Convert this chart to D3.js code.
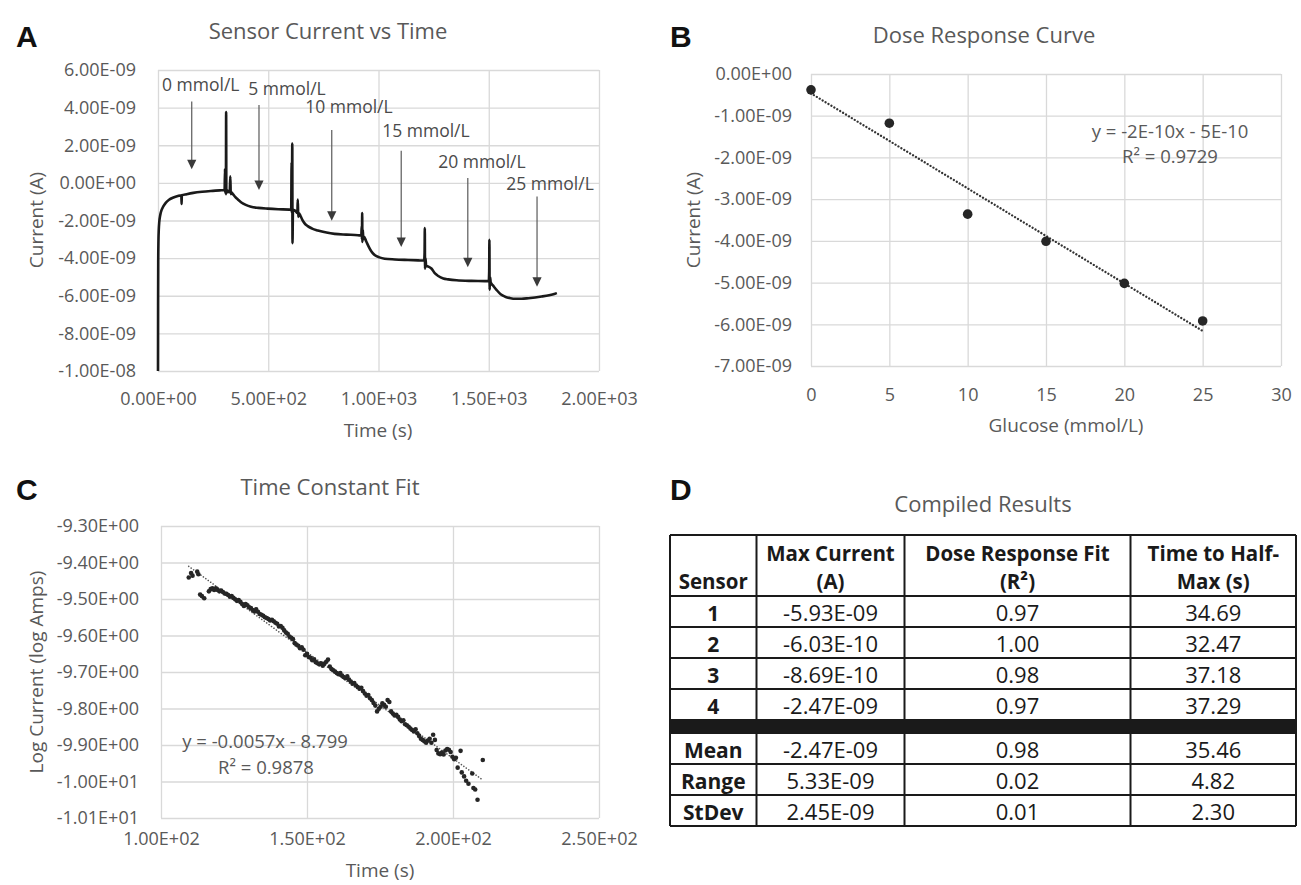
<!DOCTYPE html>
<html>
<head>
<meta charset="utf-8">
<script src="https://cdn.jsdelivr.net/npm/d3@7"></script>
<style>
body { margin: 0; background: #fff; }
svg text { font-family: "Open Sans", sans-serif; }
</style>
</head>
<body>
<svg id="fig" width="1301" height="885"></svg>
<script>
"use strict";

// ---------- data ----------
// panel A: sensor trace, time (s) vs current (nA)
var traceA = [[0,-10],[0.4,-6.5],[1,-4.2],[2,-3.1],[3.5,-2.5],[6,-2.05],[10,-1.72],[16,-1.45],[24,-1.25],[35,-1.06],
	[50,-0.9],[70,-0.78],[90,-0.7],[106,-0.66],[107,-1.12],[108,-0.66],[130,-0.6],[160,-0.53],[200,-0.47],[240,-0.43],
	[280,-0.4],[302,-0.38],[304,0.75],[305,-0.55],[307,0.5],[308,-0.6],[309,3.77],[310,-0.55],[313,-0.4],[318,-0.45],
	[325,-0.5],[328,0.35],[330,-0.6],[333,-0.5],[340,-0.6],[350,-0.75],[362,-0.88],[378,-1.04],[398,-1.17],[422,-1.27],
	[455,-1.33],[498,-1.37],[545,-1.4],[596,-1.42],[604,-1.45],[606,1.1],[607,-1.6],[609,2.09],[610,-3.2],[612,-1.5],
	[616,-1.45],[624,-1.5],[632,-1.6],[634,-0.89],[636,-1.81],[639,-1.6],[646,-1.75],[654,-1.95],[664,-2.14],[679,-2.3],
	[699,-2.43],[725,-2.53],[764,-2.64],[801,-2.71],[854,-2.75],[907,-2.78],[922,-2.8],[924,-2.3],[925,-3.0],[926,-1.6],
	[927,-3.14],[929,-2.5],[931,-3.0],[934,-2.85],[944,-3.1],[956,-3.4],[968,-3.65],[984,-3.85],[1004,-3.96],[1028,-4.03],
	[1074,-4.07],[1134,-4.1],[1180,-4.12],[1207,-4.13],[1209,-3.7],[1210,-2.4],[1211,-4.56],[1213,-4.0],[1216,-4.4],[1226,-4.45],
	[1240,-4.55],[1255,-4.8],[1271,-4.95],[1294,-5.08],[1316,-5.13],[1354,-5.18],[1422,-5.21],[1483,-5.22],[1500,-5.23],[1502,-4.7],
	[1503,-3.02],[1504,-5.68],[1506,-5.0],[1509,-5.3],[1519,-5.45],[1536,-5.7],[1554,-5.92],[1574,-6.05],[1599,-6.13],[1619,-6.16],
	[1649,-6.16],[1680,-6.13],[1740,-6.04],[1774,-5.97],[1801,-5.89],[1809,-5.86]];

// glucose additions marked on panel A (time s, current nA)
var doseLabels = ["0 mmol/L", "5 mmol/L", "10 mmol/L", "15 mmol/L", "20 mmol/L", "25 mmol/L"];
var arrowT = [153, 458, 788, 1103, 1405, 1719];
var arrowTop = [4.32, 4.14, 2.81, 1.71, 0.26, -0.73];
var arrowTip = [0.72, -0.38, -2.01, -3.41, -4.49, -5.52];
var labelT = [194, 585, 866, 1215, 1469, 1778];
var labelV = [4.86, 4.67, 3.72, 2.44, 0.79, -0.38];

var ticksAx = [0, 500, 1000, 1500, 2000];
var ticksAy = [6, 4, 2, 0, -2, -4, -6, -8, -10]; // nA

// panel B: dose response
var glucose = [0, 5, 10, 15, 20, 25];
var doseCurrent = [-0.38e-9, -1.18e-9, -3.36e-9, -4.01e-9, -5.02e-9, -5.92e-9];
var ticksBx = [0, 5, 10, 15, 20, 25, 30];
var ticksBy = [0, -1e-9, -2e-9, -3e-9, -4e-9, -5e-9, -6e-9, -7e-9];

// panel C: time constant fit, time (s) vs log current
var fitTime = [109.5,110.3,110.8,112.4,112.8,113.4,114.0,114.8,116.4,117.0,117.6,118.2,118.8,119.4,120.0,120.6,121.2,121.8,
	122.4,123.0,123.6,124.2,124.8,125.4,126.0,126.6,127.2,127.8,128.4,129.0,129.6,130.2,130.8,131.4,132.0,132.6,133.2,133.8,
	134.4,135.0,135.6,136.2,136.8,137.4,138.0,138.6,139.2,139.8,140.4,141.0,141.6,142.2,142.8,143.4,144.0,144.6,145.2,145.8,
	146.4,147.0,147.6,148.2,148.8,149.4,150.0,150.6,151.2,151.8,152.4,153.0,153.6,154.2,154.8,155.4,156.0,156.6,157.2,157.8,
	158.4,159.0,159.6,160.2,160.8,161.4,162.0,162.6,163.2,163.8,164.4,165.0,165.6,166.2,166.8,167.4,168.0,168.6,169.2,169.8,
	170.4,171.0,171.6,172.2,172.8,173.4,174.0,174.6,175.2,175.8,176.4,177.0,177.6,178.2,178.8,179.4,180.0,180.6,181.2,181.8,
	182.4,183.0,183.6,184.2,184.8,185.4,186.0,186.6,187.2,187.8,188.4,189.0,189.6,190.2,190.8,191.4,192.0,192.6,193.2,193.8,
	194.4,195.0,195.6,196.2,196.8,197.4,198.0,198.6,199.2,199.8,200.4,201.0,201.6,202.6,203.0,203.8,204.5,205.3,206.6,207.0,
	207.6,208.4,210.2];
var fitLogI = [-9.441,-9.429,-9.436,-9.425,-9.432,-9.488,-9.492,-9.498,-9.479,-9.473,-9.471,-9.475,-9.471,-9.475,-9.479,-9.477,-9.481,-9.485,
	-9.486,-9.489,-9.494,-9.492,-9.497,-9.501,-9.505,-9.503,-9.508,-9.514,-9.519,-9.514,-9.517,-9.523,-9.525,-9.530,-9.534,-9.528,-9.535,-9.541,
	-9.543,-9.546,-9.550,-9.552,-9.555,-9.559,-9.557,-9.561,-9.565,-9.568,-9.575,-9.574,-9.579,-9.586,-9.592,-9.595,-9.603,-9.606,-9.610,-9.621,
	-9.625,-9.628,-9.635,-9.632,-9.639,-9.654,-9.650,-9.659,-9.661,-9.668,-9.665,-9.673,-9.676,-9.679,-9.676,-9.683,-9.677,-9.672,-9.666,-9.685,
	-9.692,-9.695,-9.699,-9.703,-9.706,-9.703,-9.710,-9.714,-9.717,-9.712,-9.721,-9.726,-9.732,-9.730,-9.737,-9.741,-9.746,-9.743,-9.752,-9.759,
	-9.765,-9.763,-9.772,-9.777,-9.785,-9.792,-9.808,-9.801,-9.795,-9.786,-9.790,-9.795,-9.777,-9.782,-9.808,-9.814,-9.819,-9.817,-9.823,-9.830,
	-9.835,-9.832,-9.843,-9.846,-9.850,-9.855,-9.859,-9.863,-9.857,-9.868,-9.875,-9.883,-9.886,-9.890,-9.894,-9.888,-9.883,-9.894,-9.872,-9.886,
	-9.914,-9.923,-9.925,-9.921,-9.926,-9.915,-9.911,-9.913,-9.919,-9.932,-9.939,-9.935,-9.962,-9.916,-9.975,-9.986,-9.998,-10.006,-9.978,-10.018,
	-10.022,-10.050,-9.941];
var ticksCx = [100, 150, 200, 250];
var ticksCy = [-9.3, -9.4, -9.5, -9.6, -9.7, -9.8, -9.9, -10.0, -10.1];

// panel D: compiled results
var tableHead = [["", "Sensor"], ["Max Current", "(A)"], ["Dose Response Fit", "(R²)"], ["Time to Half-", "Max (s)"]];
var sensorNames = ["1", "2", "3", "4", "Mean", "Range", "StDev"];
var maxCurrent = [-5.93e-9, -6.03e-10, -8.69e-10, -2.47e-9, -2.47e-9, 5.33e-9, 2.45e-9];
var doseFit = [0.97, 1.00, 0.98, 0.97, 0.98, 0.02, 0.01];
var halfMax = [34.69, 32.47, 37.18, 37.29, 35.46, 4.82, 2.30];

// ---------- drawing ----------
var svg = d3.select("#fig");
var grey = "#595959";

function fmtE(v) {
	var s = v.toExponential(2).split("e");
	var sign = s[1].charAt(0), d = s[1].slice(1);
	if (d.length < 2) d = "0" + d;
	return s[0] + "E" + sign + d;
}

function linFit(xs, ys) {
	var mx = d3.mean(xs), my = d3.mean(ys), sxy = 0, sxx = 0;
	xs.forEach(function(x, i) { sxy += (x - mx) * (ys[i] - my); sxx += (x - mx) * (x - mx); });
	var m = sxy / sxx;
	return { m: m, b: my - m * mx };
}

// gridlines + tick labels, excel style (no axis lines)
function frame(x, y, xt, yt, fx, fy, padL, padB) {
	var w = x.range()[1] - x.range()[0], h = y.range()[0] - y.range()[1];
	var ax = svg.append("g").attr("transform", "translate(0," + y.range()[0] + ")")
		.call(d3.axisBottom(x).tickValues(xt).tickFormat(fx).tickSize(-h).tickPadding(padB));
	var ay = svg.append("g").attr("transform", "translate(" + x.range()[0] + ",0)")
		.call(d3.axisLeft(y).tickValues(yt).tickFormat(fy).tickSize(-w).tickPadding(padL));
	[ax, ay].forEach(function(a) {
		a.attr("font-family", null).attr("font-size", null);
		a.select(".domain").remove();
		a.selectAll("line").attr("stroke", "#d9d9d9").attr("stroke-width", 1.3);
		a.selectAll("text").attr("fill", grey).attr("font-size", 18);
	});
}

function text(x, y, s, size, opts) {
	opts = opts || {};
	var t = svg.append("text").attr("x", x).attr("y", y).text(s)
		.attr("font-size", size).attr("fill", opts.fill || grey)
		.attr("text-anchor", opts.anchor || "middle");
	if (opts.bold) t.attr("font-weight", "bold");
	if (opts.rotate) t.attr("transform", "rotate(-90," + x + "," + y + ")");
	if (opts.family) t.style("font-family", opts.family);
	return t;
}

function panelLetter(x, y, s) {
	text(x, y, s, 30, { fill: "#111", bold: true, anchor: "start", family: "'Liberation Sans', Arial, sans-serif" });
}

// ----- panel A -----
var xA = d3.scaleLinear().domain(d3.extent(ticksAx)).range([158, 599]);
var yA = d3.scaleLinear().domain(d3.extent(ticksAy)).range([371, 70]);
frame(xA, yA, ticksAx, ticksAy, fmtE, function(v) { return fmtE(v * 1e-9); }, 22, 21);

svg.append("path").datum(traceA)
	.attr("fill", "none").attr("stroke", "#1a1a1a").attr("stroke-width", 2.6).attr("stroke-linejoin", "round")
	.attr("d", d3.line().x(function(d) { return xA(d[0]); }).y(function(d) { return yA(d[1]); }).curve(d3.curveMonotoneX));

doseLabels.forEach(function(lab, i) {
	var ax = xA(arrowT[i]), tip = yA(arrowTip[i]);
	svg.append("line").attr("x1", ax).attr("x2", ax).attr("y1", yA(arrowTop[i])).attr("y2", tip - 8)
		.attr("stroke", "#5a5a5a").attr("stroke-width", 1.2);
	svg.append("path").attr("d", "M" + (ax - 4.6) + "," + (tip - 9.5) + "L" + (ax + 4.6) + "," + (tip - 9.5) + "L" + ax + "," + tip + "Z")
		.attr("fill", "#3a3a3a");
	text(xA(labelT[i]), yA(labelV[i]), lab, 17.5, { fill: "#4a4a4a" });
});

panelLetter(16, 47, "A");
text(328, 39, "Sensor Current vs Time", 22);
text(378, 437, "Time (s)", 19);
text(43, 220, "Current (A)", 19, { rotate: true });

// ----- panel B -----
var xB = d3.scaleLinear().domain(d3.extent(ticksBx)).range([811, 1281]);
var yB = d3.scaleLinear().domain(d3.extent(ticksBy)).range([366, 74]);
frame(xB, yB, ticksBx, ticksBy, d3.format("d"), fmtE, 19, 22);

var fitB = linFit(glucose, doseCurrent);
var gx = d3.extent(glucose);
svg.append("line")
	.attr("x1", xB(gx[0])).attr("y1", yB(fitB.m * gx[0] + fitB.b))
	.attr("x2", xB(gx[1])).attr("y2", yB(fitB.m * gx[1] + fitB.b))
	.attr("stroke", "#333").attr("stroke-width", 2.3).attr("stroke-linecap", "round").attr("stroke-dasharray", "0.01 3.4");

svg.selectAll(".doseDot").data(glucose).enter().append("circle")
	.attr("cx", function(d) { return xB(d); })
	.attr("cy", function(d, i) { return yB(doseCurrent[i]); })
	.attr("r", 4.8).attr("fill", "#262626");

text(1170, 138, "y = -2E-10x - 5E-10", 18.5);
text(1170, 163, "R² = 0.9729", 18.5);

panelLetter(670, 47, "B");
text(984, 43, "Dose Response Curve", 22);
text(1066, 432, "Glucose (mmol/L)", 19);
text(700, 220, "Current (A)", 19, { rotate: true });

// ----- panel C -----
var xC = d3.scaleLinear().domain(d3.extent(ticksCx)).range([161, 599]);
var yC = d3.scaleLinear().domain(d3.extent(ticksCy)).range([818, 526]);
frame(xC, yC, ticksCx, ticksCy, fmtE, fmtE, 22, 14);

var fitC = linFit(fitTime, fitLogI);
var tx = d3.extent(fitTime);
svg.append("line")
	.attr("x1", xC(tx[0])).attr("y1", yC(fitC.m * tx[0] + fitC.b))
	.attr("x2", xC(tx[1])).attr("y2", yC(fitC.m * tx[1] + fitC.b))
	.attr("stroke", "#555").attr("stroke-width", 1.6).attr("stroke-linecap", "round").attr("stroke-dasharray", "0.01 3");

svg.selectAll(".fitDot").data(fitTime).enter().append("circle")
	.attr("cx", function(d) { return xC(d); })
	.attr("cy", function(d, i) { return yC(fitLogI[i]); })
	.attr("r", 2.3).attr("fill", "#262626");

text(265, 748, "y = -0.0057x - 8.799", 18.5);
text(266, 774, "R² = 0.9878", 18.5);

panelLetter(16, 500, "C");
text(330, 495, "Time Constant Fit", 22);
text(380, 877, "Time (s)", 19);
text(43, 672, "Log Current (log Amps)", 19, { rotate: true });

// ----- panel D: table -----
panelLetter(670, 500, "D");
text(983, 512, "Compiled Results", 22);

var colX = [670, 756.5, 904.5, 1130.5, 1296];
var rowTop = [596, 627, 658, 689, 733, 764, 795];
var rowH = 31;
var tTop = 535, tBot = 826, headBot = 596, band = [720, 733];
var ink = "#1a1a1a";

svg.append("rect").attr("x", colX[0]).attr("y", band[0]).attr("width", colX[4] - colX[0]).attr("height", band[1] - band[0]).attr("fill", ink);
[tTop, headBot].concat(rowTop.slice(1), [band[0], tBot]).forEach(function(y) {
	svg.append("line").attr("x1", colX[0]).attr("x2", colX[4]).attr("y1", y).attr("y2", y).attr("stroke", ink).attr("stroke-width", 2);
});
colX.forEach(function(x) {
	svg.append("line").attr("x1", x).attr("x2", x).attr("y1", tTop).attr("y2", tBot).attr("stroke", ink).attr("stroke-width", 2);
});

function colMid(c) { return (colX[c] + colX[c + 1]) / 2; }

tableHead.forEach(function(h, c) {
	text(colMid(c), 561, h[0], 20.5, { fill: ink, bold: true });
	text(colMid(c), 589, h[1], 20.5, { fill: ink, bold: true });
});

sensorNames.forEach(function(name, r) {
	var y = rowTop[r] + rowH / 2 + 9;
	text(colMid(0), y, name, 21, { fill: ink, bold: true });
	text(colMid(1), y, fmtE(maxCurrent[r]), 22, { fill: ink });
	text(colMid(2), y, doseFit[r].toFixed(2), 22, { fill: ink });
	text(colMid(3), y, halfMax[r].toFixed(2), 22, { fill: ink });
});
</script>
</body>
</html>
